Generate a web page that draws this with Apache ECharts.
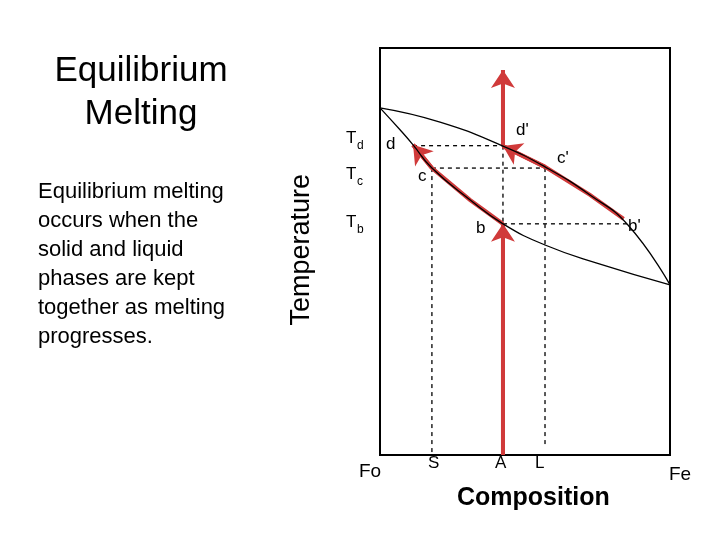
<!DOCTYPE html>
<html>
<head>
<meta charset="UTF-8">
<script src="https://cdn.jsdelivr.net/npm/echarts@6/dist/echarts.min.js"></script>
<style>html,body{margin:0;background:#fff}#chart{width:720px;height:540px}</style>
</head>
<body>
<div id="chart"></div>
<script>
// liquidus (upper) and solidus (lower) curves, composition 0-100, temperature 0-100
const liquidus = [[0, 85.3], [20.7, 81.8], [42.4, 75.9], [56.9, 70.8], [72.4, 63.9], [85.5, 56.5], [100, 41.8]];
const solidus = [[0, 85.3], [6.9, 79.9], [11.4, 76.2], [17.9, 70.5], [31.0, 62.7], [42.4, 56.8], [56.9, 51.6], [75.9, 46.9], [100, 41.8]];
// red paths
const heatPath = [[42.4, 0], [42.4, 56.8]];
const solidPath = [[42.4, 56.8], [31.0, 62.7], [17.9, 70.5], [11.4, 76.2]];
const liquidPath = [[84, 58], [72.4, 63.9], [56.9, 70.8], [42.4, 75.9]];
const meltPath = [[42.4, 75.9], [42.4, 94.6]];
// dashed tie lines
const tieLines = [
  [[11.4, 76.0], [42.4, 76.0]],
  [[17.9, 70.5], [56.9, 70.5]],
  [[42.4, 56.8], [85.5, 56.8]],
  [[17.9, 70.5], [17.9, 0]],
  [[42.4, 76.0], [42.4, 56.8]],
  [[56.9, 70.5], [56.9, 2]]
];
const bodyLines = ['Equilibrium melting', 'occurs when the', 'solid and liquid', 'phases are kept', 'together as melting', 'progresses.'];

const redPaths = [heatPath, solidPath, liquidPath, meltPath];
const chart = echarts.init(document.getElementById('chart'));
const red = '#d03a3a';
const txt = (x, y, t, size) => ({type: 'text', left: x, top: y, style: {text: t, font: (size || 17) + 'px Arial, "Liberation Sans"', fill: '#000'}});

chart.setOption({
  animation: false,
  grid: {left: 380, right: 50, top: 48, bottom: 85, show: true, borderColor: '#000', borderWidth: 2, backgroundColor: 'transparent'},
  xAxis: {type: 'value', min: 0, max: 100, show: false},
  yAxis: {type: 'value', min: 0, max: 100, show: false},
  series: [
    {type: 'line', data: liquidus, smooth: true, symbol: 'none', lineStyle: {color: '#000', width: 1.3}},
    {type: 'line', data: solidus, smooth: true, symbol: 'none', lineStyle: {color: '#000', width: 1.3}},
    {type: 'lines', coordinateSystem: 'cartesian2d', polyline: true, lineStyle: {color: '#000', width: 1.3, type: [4, 4], opacity: 1},
      data: tieLines.map(c => ({coords: c}))},
    {type: 'lines', coordinateSystem: 'cartesian2d', polyline: true,
      lineStyle: {color: red, width: 4, opacity: 1},
      data: redPaths.map(c => ({coords: c}))},
    // final segment of each red path carries the arrow head
    {type: 'lines', coordinateSystem: 'cartesian2d', symbol: ['none', 'arrow'], symbolSize: 18,
      lineStyle: {color: red, width: 4, opacity: 1, curveness: 0},
      data: redPaths.map(c => ({coords: c.slice(-2)}))}
  ],
  graphic: [
    {type: 'text', x: 141, y: 50, style: {text: 'Equilibrium\nMelting', font: '35px Arial, "Liberation Sans"', fill: '#000', align: 'center', lineHeight: 43}},
    {type: 'text', left: 38, top: 177, style: {text: bodyLines.join('\n'), font: '22px Arial, "Liberation Sans"', fill: '#000', lineHeight: 29}},
    {type: 'text', left: 288, top: 174, rotation: Math.PI / 2, style: {text: 'Temperature', font: '27px Arial, "Liberation Sans"', fill: '#000'}},
    txt(346, 130, 'T', 17), txt(357, 140, 'd', 12),
    txt(346, 166, 'T', 17), txt(357, 176, 'c', 12),
    txt(346, 214, 'T', 17), txt(357, 224, 'b', 12),
    txt(386, 136, 'd'), txt(516, 122, "d'"), txt(418, 168, 'c'), txt(557, 150, "c'"),
    txt(476, 220, 'b'), txt(628, 218, "b'"),
    txt(359, 462, 'Fo', 19), txt(428, 455, 'S', 17), txt(495, 455, 'A', 17), txt(535, 455, 'L', 17),
    txt(669, 465, 'Fe', 19),
    {type: 'text', left: 457, top: 486, style: {text: 'Composition', font: 'bold 25px Arial, "Liberation Sans"', fill: '#000'}}
  ]
});
</script>
</body>
</html>
